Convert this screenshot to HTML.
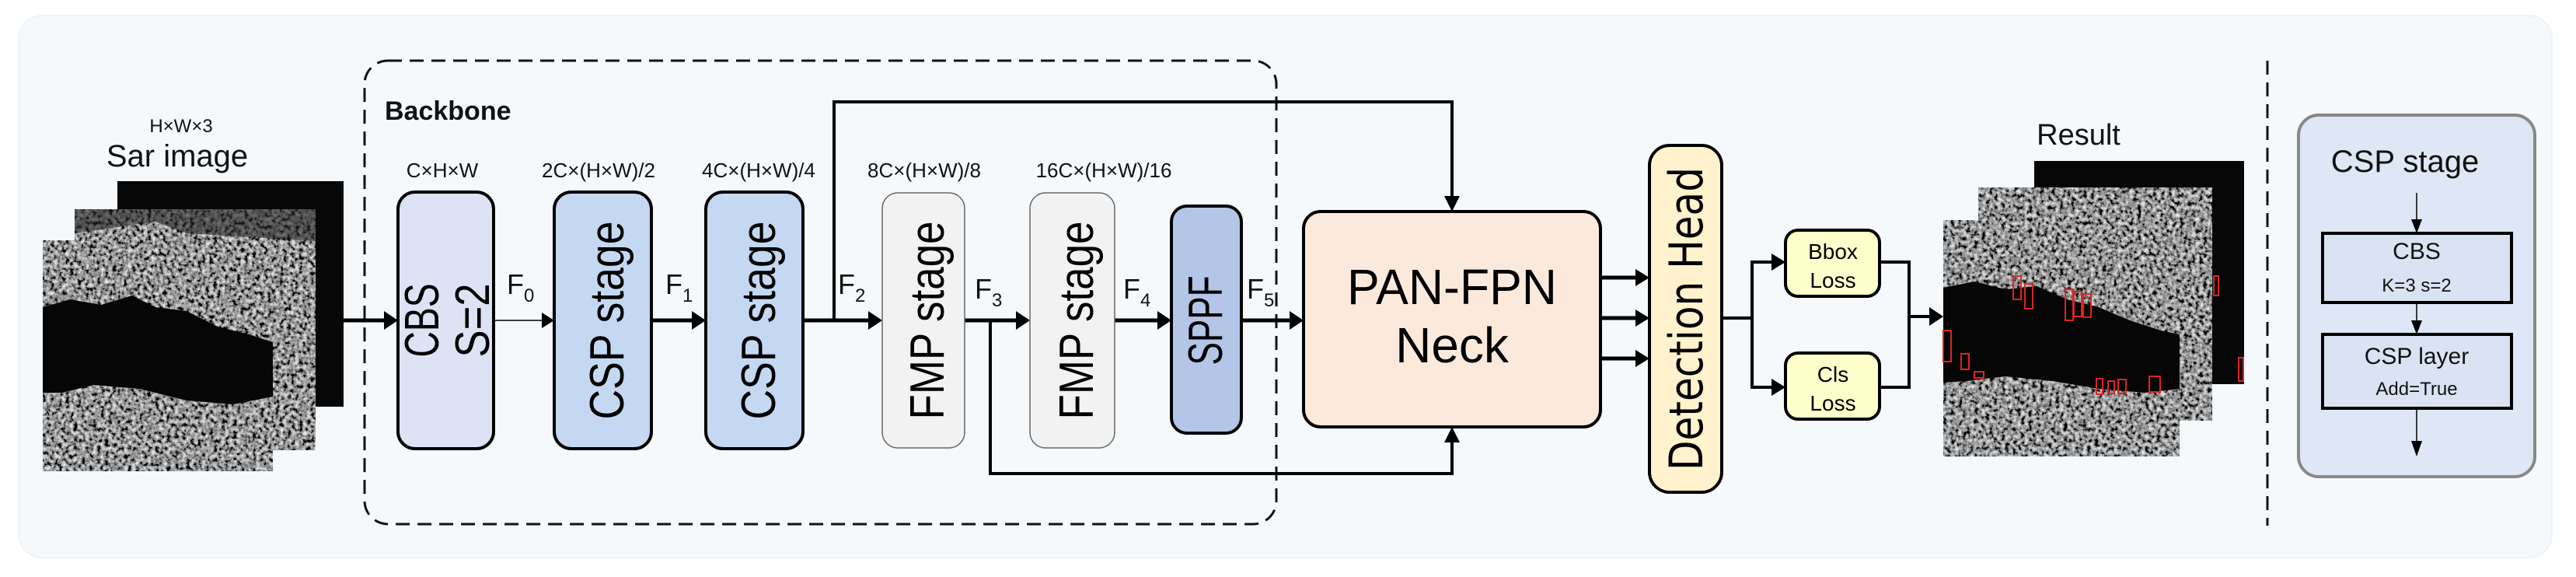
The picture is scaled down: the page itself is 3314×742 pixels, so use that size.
<!DOCTYPE html>
<html><head><meta charset="utf-8"><style>
html,body{margin:0;padding:0;background:#fff;}
svg{display:block;}
text{font-family:"Liberation Sans","DejaVu Sans",sans-serif;}
.rt{font-family:"DejaVu Sans","Liberation Sans",sans-serif;}
</style></head><body>
<svg width="3314" height="742" viewBox="0 0 3314 742" xmlns="http://www.w3.org/2000/svg">
<defs>
<filter id="noise" x="0" y="0" width="100%" height="100%">
<feTurbulence type="fractalNoise" baseFrequency="0.2" numOctaves="3" seed="3" result="t"/>
<feColorMatrix in="t" type="matrix" values="1.6 0 0 0 -0.5  1.6 0 0 0 -0.5  1.6 0 0 0 -0.5  0 0 0 0 1"/>
</filter>
</defs>

<rect x="24" y="20" width="3259" height="697" rx="30" fill="#f5f9fb" stroke="#eef3f6" stroke-width="2"/>

<rect x="469" y="78" width="1173" height="596" rx="30" fill="none" stroke="#111" stroke-width="3" stroke-dasharray="18,10"/>
<text x="495" y="154" font-size="34" font-weight="bold" fill="#111">Backbone</text>

<rect x="151" y="233" width="291" height="290" fill="#070707"/>
<g>
<rect x="96" y="269" width="310" height="310" fill="#555" filter="url(#noise)"/>
<path d="M96 300 L200 285 L240 300 L406 310 L406 269 L96 269 Z" fill="#222" opacity="0.6"/>
</g>
<g>
<rect x="55" y="309" width="296" height="297" fill="#666" filter="url(#noise)"/>
<path d="M55 395 L90 385 L130 392 L170 380 L200 395 L240 400 L280 420 L320 430 L351 440 L351 510 L300 520 L240 515 L180 500 L120 495 L80 505 L55 505 Z" fill="#060606"/>
</g>
<text x="233" y="170" font-size="24" text-anchor="middle" fill="#111">H×W×3</text>
<text x="228" y="214" font-size="40" text-anchor="middle" fill="#111">Sar image</text>

<g font-size="26" fill="#111" text-anchor="middle">
<text x="569" y="228">C×H×W</text>
<text x="770" y="228">2C×(H×W)/2</text>
<text x="976" y="228">4C×(H×W)/4</text>
<text x="1189" y="228">8C×(H×W)/8</text>
<text x="1420" y="228">16C×(H×W)/16</text>
</g>

<g stroke="#000" fill="none">
<line x1="442" y1="412" x2="500" y2="412" stroke-width="5"/>
<line x1="635" y1="412" x2="700" y2="412" stroke-width="1.5"/>
<line x1="838" y1="412" x2="895" y2="412" stroke-width="5"/>
<line x1="1033" y1="412" x2="1122" y2="412" stroke-width="5"/>
<line x1="1241" y1="412" x2="1312" y2="412" stroke-width="5"/>
<line x1="1434" y1="412" x2="1494" y2="412" stroke-width="5"/>
<line x1="1597" y1="412" x2="1664" y2="412" stroke-width="5"/>
<polyline points="1073,412 1073,131 1868,131 1868,258" stroke-width="4"/>
<polyline points="1274,412 1274,609 1868,609 1868,563" stroke-width="4"/>
</g>
<g fill="#000">
<polygon points="512,412 494,400 494,424"/>
<polygon points="713,412 697,402 697,422"/>
<polygon points="908,412 890,400 890,424"/>
<polygon points="1135,412 1117,400 1117,424"/>
<polygon points="1325,412 1307,400 1307,424"/>
<polygon points="1507,412 1489,400 1489,424"/>
<polygon points="1677,412 1659,400 1659,424"/>
<polygon points="1868,272 1858,252 1878,252"/>
<polygon points="1868,549 1858,569 1878,569"/>
</g>

<g font-family="Liberation Serif, serif" font-size="36" fill="#111">
<text x="652" y="378">F<tspan font-size="24" dy="10">0</tspan></text>
<text x="856" y="378">F<tspan font-size="24" dy="10">1</tspan></text>
<text x="1078" y="378">F<tspan font-size="24" dy="10">2</tspan></text>
<text x="1254" y="384">F<tspan font-size="24" dy="10">3</tspan></text>
<text x="1445" y="384">F<tspan font-size="24" dy="10">4</tspan></text>
<text x="1604" y="384">F<tspan font-size="24" dy="10">5</tspan></text>
</g>

<rect x="512" y="247" width="123" height="330" rx="22" fill="#dde3f5" stroke="#000" stroke-width="4"/>
<rect x="713" y="247" width="125" height="330" rx="22" fill="#c5d8f2" stroke="#000" stroke-width="4"/>
<rect x="908" y="247" width="125" height="330" rx="22" fill="#c5d8f2" stroke="#000" stroke-width="4"/>
<rect x="1135" y="248" width="106" height="328" rx="20" fill="#f2f2f2" stroke="#666" stroke-width="1.5"/>
<rect x="1325" y="248" width="109" height="328" rx="20" fill="#f2f2f2" stroke="#666" stroke-width="1.5"/>
<rect x="1507" y="265" width="90" height="292" rx="20" fill="#b4c6e7" stroke="#000" stroke-width="4"/>

<g class="rt" font-size="52" fill="#000">
<text transform="translate(564,412) rotate(-90) scale(1,1.2)" text-anchor="middle" textLength="95" lengthAdjust="spacingAndGlyphs">CBS</text>
<text transform="translate(629,412) rotate(-90) scale(1,1.2)" text-anchor="middle" textLength="95" lengthAdjust="spacingAndGlyphs">S=2</text>
<text transform="translate(802,412) rotate(-90) scale(1,1.2)" text-anchor="middle" textLength="255" lengthAdjust="spacingAndGlyphs">CSP stage</text>
<text transform="translate(997,412) rotate(-90) scale(1,1.2)" text-anchor="middle" textLength="255" lengthAdjust="spacingAndGlyphs">CSP stage</text>
<text transform="translate(1214,412) rotate(-90) scale(1,1.2)" text-anchor="middle" textLength="255" lengthAdjust="spacingAndGlyphs">FMP stage</text>
<text transform="translate(1406,412) rotate(-90) scale(1,1.2)" text-anchor="middle" textLength="255" lengthAdjust="spacingAndGlyphs">FMP stage</text>
<text transform="translate(1572,412) rotate(-90) scale(1,1.2)" text-anchor="middle" textLength="115" lengthAdjust="spacingAndGlyphs">SPPF</text>
</g>

<rect x="1677" y="272" width="382" height="277" rx="22" fill="#fbe9dc" stroke="#000" stroke-width="4"/>
<text x="1868" y="391" font-size="64" text-anchor="middle" fill="#000" textLength="270" lengthAdjust="spacingAndGlyphs">PAN-FPN</text>
<text x="1868" y="466" font-size="64" text-anchor="middle" fill="#000">Neck</text>

<g stroke="#000" stroke-width="5">
<line x1="2059" y1="357" x2="2106" y2="357"/>
<line x1="2059" y1="409" x2="2106" y2="409"/>
<line x1="2059" y1="461" x2="2106" y2="461"/>
</g>
<g fill="#000">
<polygon points="2122,357 2104,346 2104,368"/>
<polygon points="2122,409 2104,398 2104,420"/>
<polygon points="2122,461 2104,450 2104,472"/>
</g>

<rect x="2122" y="187" width="93" height="446" rx="26" fill="#fff2cc" stroke="#000" stroke-width="4"/>
<text class="rt" transform="translate(2190,410) rotate(-90) scale(1,1.2)" font-size="50" text-anchor="middle" textLength="390" lengthAdjust="spacingAndGlyphs" fill="#000">Detection Head</text>

<g stroke="#000" stroke-width="4" fill="none">
<polyline points="2215,409 2254,409"/>
<polyline points="2284,337 2254,337 2254,498 2284,498"/>
<polyline points="2418,337 2456,337 2456,498 2418,498"/>
<line x1="2456" y1="407" x2="2486" y2="407"/>
</g>
<g fill="#000">
<polygon points="2297,337 2279,326 2279,348"/>
<polygon points="2297,498 2279,487 2279,509"/>
<polygon points="2500,407 2482,395 2482,419"/>
</g>
<rect x="2297" y="296" width="121" height="85" rx="16" fill="#ffffcc" stroke="#000" stroke-width="4"/>
<rect x="2297" y="454" width="121" height="85" rx="16" fill="#ffffcc" stroke="#000" stroke-width="4"/>
<g font-size="28" text-anchor="middle" fill="#000">
<text x="2358" y="333">Bbox</text>
<text x="2358" y="370">Loss</text>
<text x="2358" y="491">Cls</text>
<text x="2358" y="528">Loss</text>
</g>

<text x="2674" y="186" font-size="38" text-anchor="middle" fill="#111">Result</text>
<rect x="2617" y="207" width="270" height="287" fill="#070707"/>
<rect x="2545" y="241" width="301" height="300" fill="#555" filter="url(#noise)"/>
<g>
<rect x="2500" y="283" width="304" height="304" fill="#666" filter="url(#noise)"/>
<path d="M2500 370 L2540 362 L2580 372 L2620 368 L2660 385 L2700 395 L2740 412 L2780 425 L2804 430 L2804 500 L2760 505 L2700 500 L2640 490 L2580 484 L2530 490 L2500 492 Z" fill="#060606"/>
</g>
<g fill="none" stroke="#d22" stroke-width="2">
<rect x="2590" y="355" width="10" height="30"/><rect x="2605" y="365" width="10" height="32"/>
<rect x="2657" y="372" width="10" height="40"/><rect x="2668" y="375" width="10" height="32"/><rect x="2680" y="378" width="10" height="30"/>
<rect x="2500" y="425" width="10" height="40"/><rect x="2523" y="455" width="10" height="20"/><rect x="2540" y="478" width="12" height="8"/>
<rect x="2697" y="487" width="8" height="20"/><rect x="2712" y="490" width="8" height="16"/><rect x="2725" y="488" width="10" height="18"/><rect x="2765" y="484" width="14" height="20"/>
<rect x="2848" y="355" width="6" height="25"/><rect x="2880" y="460" width="6" height="30"/>
</g>

<line x1="2917" y1="78" x2="2917" y2="676" stroke="#111" stroke-width="3" stroke-dasharray="18,10"/>

<rect x="2957" y="148" width="304" height="465" rx="26" fill="#dde7f5" stroke="#888" stroke-width="4"/>
<text x="3094" y="221" font-size="40" text-anchor="middle" fill="#111">CSP stage</text>
<g stroke="#000" stroke-width="1.5">
<line x1="3109" y1="248" x2="3109" y2="290"/>
<line x1="3109" y1="389" x2="3109" y2="421"/>
<line x1="3109" y1="525" x2="3109" y2="575"/>
</g>
<g fill="#000">
<polygon points="3109,300 3102,282 3116,282"/>
<polygon points="3109,430 3102,412 3116,412"/>
<polygon points="3109,587 3102,567 3116,567"/>
</g>
<rect x="2988" y="300" width="243" height="89" fill="#dae3f3" stroke="#000" stroke-width="4"/>
<rect x="2988" y="430" width="243" height="95" fill="#dae3f3" stroke="#000" stroke-width="4"/>
<g text-anchor="middle" fill="#111">
<text x="3109" y="333" font-size="30">CBS</text>
<text x="3109" y="375" font-size="24">K=3 s=2</text>
<text x="3109" y="468" font-size="30">CSP layer</text>
<text x="3109" y="508" font-size="24">Add=True</text>
</g>
</svg>
</body></html>
